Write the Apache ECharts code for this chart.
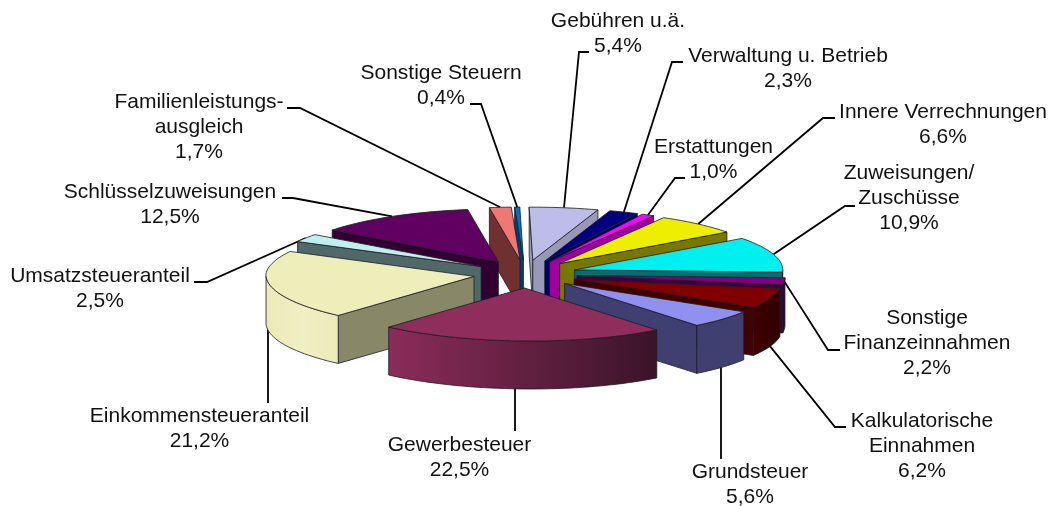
<!DOCTYPE html>
<html><head><meta charset="utf-8">
<style>html,body{margin:0;padding:0;background:#fff}#c{width:1060px;height:506px}</style>
<script src="https://cdn.jsdelivr.net/npm/echarts@6/dist/echarts.min.js"></script>
</head><body><div id="c"></div>
<script>
const categories = ['Gebühren u.ä.','Verwaltung u. Betrieb','Erstattungen','Innere Verrechnungen','Zuweisungen/\nZuschüsse','Sonstige\nFinanzeinnahmen','Kalkulatorische\nEinnahmen','Grundsteuer','Gewerbesteuer','Einkommensteueranteil','Umsatzsteueranteil','Schlüsselzuweisungen','Familienleistungs-\nausgleich','Sonstige Steuern'];
const values = [5.4,2.3,1.0,6.6,10.9,2.2,6.2,5.6,22.5,21.2,2.5,12.5,1.7,0.4];
const topColors = ['#BDBDE9','#000080','#FF00FF','#EEEE00','#00F0F0','#800080','#800000','#9090EE','#8F2D5C','#EEEEBB','#BFF0EE','#600060','#F07874','#0070C8'];
const faceColors = ['#9898B8','#000060','#A000A0','#787800','#007070','#400040','#400000','#404070','#8B2C5A','#888868','#506868','#300030','#703030','#004070'];
const wallEnds = ['#9898B8','#000060','#A000A0','#787800','#007070','#300030','#300000','#404070','#3A1428','#EAEAB8','#506868','#300030','#703030','#004070'];
const labelCenters = [[618,33.5],[788,68.5],[713.5,159.5],[943,124.5],[909,198.5],[927,343],[922,446],[750,484.5],[459.5,457.5],[199.5,428.5],[100,288.5],[170,204.5],[199,127],[441,85.5]];
const leaderKnees = [[[589,52],[579,52]],[[683,62],[672,62]],[[685,178],[675,178]],[[835,118],[823,118]],[[855,206],[845,206]],[[840,350],[828,350]],[[846,427],[835,427]],[[721,459],[721,459]],[[515,431],[515,431]],[[268,403],[268,403]],[[194,282],[207,282]],[[282,198],[293,198]],[[287,108],[300,108]],[[470,104],[481,104]]];

const CX=525, CY=274, RX=208, RY=53, EX=52, EY=14, DEPTH=48, START=-1, SHEAR=0.12;
const total = values.reduce((a,b)=>a+b,0);
const angles=[]; { let s=START; values.forEach(v=>{const e=s+v/total*360; angles.push([s,e]); s=e;}); }
const rad=d=>d*Math.PI/180;
const sheared=(x,y)=>[x+SHEAR*Math.max(0,y-CY),y];
function geom(i){
  const [a,b]=angles[i], m=(a+b)/2;
  const ax=CX+EX*Math.sin(rad(m)), ay=CY-EY*Math.cos(rad(m));
  const pt=t=>sheared(ax+RX*Math.sin(rad(t)), ay-RY*Math.cos(rad(t)));
  return {a,b,m,apex:sheared(ax,ay),pt};
}
const down=p=>[p[0],p[1]+DEPTH];
function range(a,b){const n=Math.max(2,Math.ceil((b-a)/2));const r=[];for(let k=0;k<=n;k++)r.push(a+(b-a)*k/n);return r;}
const stroke={stroke:'#1c1c24',lineWidth:0.8};
function poly(points,fill){return {type:'polygon',shape:{points},style:Object.assign({fill,lineJoin:'round'},stroke),silent:true};}

function renderSlice(params,api){
  const i=api.value(0), g=geom(i), ch=[];
  if(Math.sin(rad(g.a))<0){const p=g.pt(g.a);ch.push(poly([g.apex,p,down(p),down(g.apex)],faceColors[i]));}
  if(Math.sin(rad(g.b))>0){const p=g.pt(g.b);ch.push(poly([g.apex,p,down(p),down(g.apex)],faceColors[i]));}
  const lo=Math.max(g.a,90), hi=Math.min(g.b,270);
  if(hi>lo){
    const rs=range(lo,hi);
    const top=rs.map(t=>g.pt(t)), bot=rs.map(t=>down(g.pt(t))).reverse();
    const fill=new echarts.graphic.LinearGradient(0,0,1,0,[{offset:0,color:i===9?wallEnds[i]:faceColors[i]},{offset:i===9?0.5:1,color:i===9?'#EFEFC4':wallEnds[i]},{offset:1,color:wallEnds[i]}]);
    ch.push(poly(top.concat(bot),fill));
  }
  const arc=range(g.a,g.b).map(t=>g.pt(t));
  ch.push(poly([g.apex].concat(arc),topColors[i]));
  return {type:'group',children:ch};
}
function renderLabel(params,api){
  const i=api.value(0), g=geom(i);
  const p=g.pt(g.m);
  let start=(g.m>105&&g.m<280)?down(p):p;
  const knees=leaderKnees[i];
  if(knees[0][0]===knees[1][0]) start=[knees[0][0],start[1]-8];
  const pts=[knees[0],knees[1],start];
  const pct=values[i].toFixed(1).replace('.',',')+'%';
  return {type:'group',children:[
    {type:'polyline',shape:{points:pts},style:{fill:null,stroke:'#000',lineWidth:1.8},silent:true},
    {type:'text',x:labelCenters[i][0],y:labelCenters[i][1],style:{text:categories[i]+'\n'+pct,align:'center',verticalAlign:'middle',fontFamily:'Liberation Sans',fontSize:21,lineHeight:25,fill:'#111'},silent:true}
  ]};
}
const order=values.map((v,i)=>i).sort((p,q)=>{
  const mp=(angles[p][0]+angles[p][1])/2, mq=(angles[q][0]+angles[q][1])/2;
  return -Math.cos(rad(mp))+Math.cos(rad(mq));
});
const chart=echarts.init(document.getElementById('c'),null,{renderer:'canvas'});
chart.setOption({
  animation:false,
  backgroundColor:'#fff',
  series:[
    {type:'custom',coordinateSystem:'none',renderItem:renderLabel,data:order.map(i=>[i,values[i]]),z:1,silent:true},
    {type:'custom',coordinateSystem:'none',renderItem:renderSlice,data:order.map(i=>[i,values[i]]),z:2,silent:true},
  ]
});
</script></body></html>
